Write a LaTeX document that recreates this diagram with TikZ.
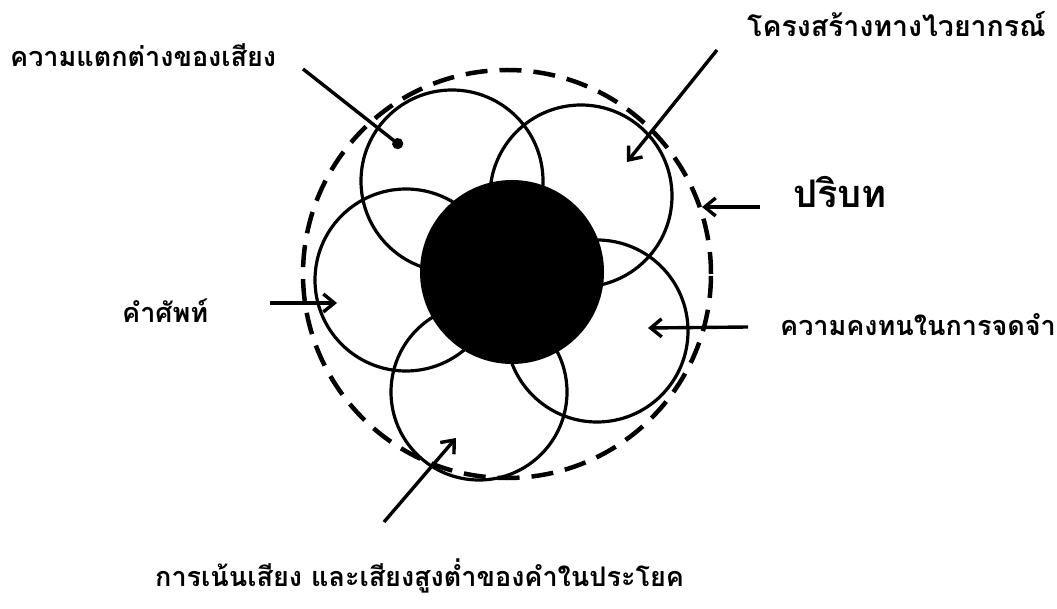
\documentclass[tikz,border=0pt]{standalone}
\usepackage{fontspec}
\newfontfamily\thaifont[Script=Thai]{Loma}
\usetikzlibrary{arrows.meta}
\begin{document}
\begin{tikzpicture}[x=1pt,y=-1pt,
  ring/.style={draw, circle, line width=3.2pt, inner sep=0pt, minimum size=182pt},
  outer/.style={draw, circle, line width=4.5pt, dash pattern=on 22pt off 12pt, inner sep=0pt},
  pointer/.style={line width=3.4pt, -{Straight Barb[length=11pt,width=18pt,line width=3.4pt]}},
  dotptr/.style={line width=3.4pt, -{Circle[length=11pt]}},
  lbl/.style={font=\thaifont\bfseries\fontsize{27}{30}\selectfont, inner sep=0pt, anchor=west},
  biglbl/.style={font=\thaifont\bfseries\fontsize{38}{42}\selectfont, inner sep=0pt, anchor=west}]
\useasboundingbox (0,0) rectangle (1057,609);
% context (dashed) circle
\node[outer, minimum size=408pt] (ctx) at (507,274) {};
% five overlapping circles
\node[ring] (c1) at (452,181) {};
\node[ring] (c2) at (581,196) {};
\node[ring] (c3) at (406,280) {};
\node[ring] (c4) at (597,331) {};
\node[ring, minimum size=176pt] (c5) at (479,392) {};
% black core
\node[circle, fill=black, inner sep=0pt, minimum size=184pt] (core) at (512,272) {};
% labels
\node[lbl] (l1) at (10,55) {ความแตกต่างของเสียง};
\node[lbl, font=\thaifont\bfseries\fontsize{28.5}{31}\selectfont] (l2) at (747,24) {โครงสร้างทางไวยากรณ์};
\node[biglbl] (l3) at (793,192) {ปริบท};
\node[lbl] (l4) at (122,311) {คำศัพท์};
\node[lbl] (l5) at (780,325) {ความคงทนในการจดจำ};
\node[lbl] (l6) at (155,576) {การเน้นเสียง และเสียงสูงต่ำของคำในประโยค};
% arrow end points
\coordinate (s1) at (303,69);  \coordinate (t1) at (402,147);
\coordinate (s2) at (717,50);  \coordinate (t2) at (627,162);
\coordinate (s3) at (760,207); \coordinate (t3) at (702,207);
\coordinate (s4) at (270,303); \coordinate (t4) at (337,303);
\coordinate (s5) at (748,327); \coordinate (t5) at (648,328);
\coordinate (s6) at (384,522); \coordinate (t6) at (456,438);
\draw[dotptr] (s1) -- (t1);
\draw[pointer] (s2) -- (t2);
\draw[pointer] (s3) -- (t3);
\draw[pointer] (s4) -- (t4);
\draw[pointer] (s5) -- (t5);
\draw[pointer] (s6) -- (t6);
\end{tikzpicture}
\end{document}
